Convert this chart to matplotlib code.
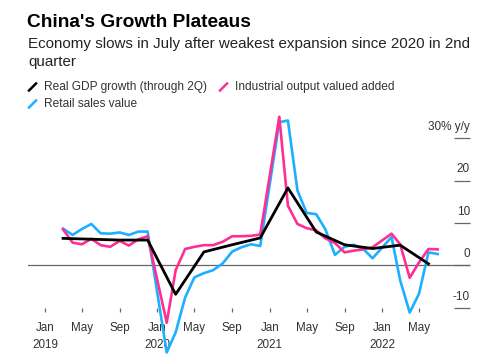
import numpy as np
import pandas as pd
import matplotlib
matplotlib.use('Agg')
import matplotlib.pyplot as plt
from matplotlib.lines import Line2D

plt.rcParams['font.family'] = ['Liberation Sans', 'DejaVu Sans']

'''Data (y/y %), Jan-Feb combined readings sit on Feb'''
retail = [8.7, 7.2, 8.6, 9.8, 7.6, 7.5, 7.8, 7.2, 8.0, 8.0,
          -20.5, -15.8, -7.5, -2.8, -1.8, -1.1, 0.5, 3.3, 4.3, 5.0, 4.6,
          33.8, 34.2, 17.7, 12.4, 12.1, 8.5, 2.5, 4.4, 4.9, 3.9, 1.7,
          6.7, -3.5, -11.1, -6.7, 3.1, 2.7]
industrial = [8.5, 5.4, 5.0, 6.3, 4.8, 4.4, 5.8, 4.7, 6.2, 6.9,
              -13.5, -1.1, 3.9, 4.4, 4.8, 4.8, 5.6, 6.9, 6.9, 7.0, 7.3,
              35.1, 14.1, 9.8, 8.8, 8.3, 6.4, 5.3, 3.1, 3.5, 3.8, 4.3,
              7.5, 5.0, -2.9, 0.7, 3.9, 3.8]
gdp = [6.4, 6.2, 6.0, 6.0,
       -6.8, 3.2, 4.9, 6.5,
       18.3, 7.9, 4.9, 4.0,
       4.8, 0.4]

months = [d for d in pd.date_range('2019-03-01', '2022-07-01', freq='MS') if d.month != 1]
quarters = pd.date_range('2019-03-01', '2022-06-01', freq='3MS')

xtick_dates = pd.date_range('2019-01-01', '2022-05-01', freq='4MS')
xtick_labels = [d.strftime('%b') + ('\n%d' % d.year if d.month == 1 else '') for d in xtick_dates]
yticks = [-10, 0, 10, 20, 30]
ytick_labels = ['-10', '0', '10', '20', '30% y/y']

c_gdp = '#000000'
c_ind = '#ff2e93'
c_ret = '#1cb0ff'
grey = '#666666'
txt = '#333333'

'''Plot'''
W, H = 485, 360
fig = plt.figure(figsize=(W / 100, H / 100), dpi=100)
fx = lambda px: px / W
fy = lambda py: 1 - py / H

ax = fig.add_axes([fx(28), fy(312), fx(470) - fx(28), fy(115) - fy(312)])

ax.plot(months, retail, color=c_ret, lw=1.9, clip_on=False, zorder=3)
ax.plot(months, industrial, color=c_ind, lw=1.9, clip_on=False, zorder=4)
ax.plot(quarters, gdp, color=c_gdp, lw=2.0, clip_on=False, zorder=5)
ax.axhline(0, color=grey, lw=0.9, zorder=2)

ax.set_xlim(pd.Timestamp('2018-11-07'), pd.Timestamp('2022-10-14'))
ax.set_ylim(-10.97, 35.5)
for s in ax.spines.values():
    s.set_visible(False)

ax.set_xticks(xtick_dates)
ax.set_xticklabels(xtick_labels, linespacing=1.6, va='top')
ax.tick_params(axis='x', direction='in', length=3, width=0.9, color=grey,
               labelsize=8.4, labelcolor=txt, pad=7)

ax.yaxis.set_ticks_position('right')
ax.set_yticks(yticks)
ax.set_yticklabels([])
ax.tick_params(axis='y', direction='in', length=11.5, width=0.9, color=grey)
for v, lab in zip(yticks, ytick_labels):
    ax.annotate(lab, xy=(1, v), xycoords=('axes fraction', 'data'),
                xytext=(0, 6), textcoords='offset points',
                ha='right', va='baseline', fontsize=8.5, color=txt)

# header
fig.text(fx(27), fy(14), "China's Growth Plateaus", fontsize=13.8,
         fontweight='bold', ha='left', va='top', color='black')
fig.text(fx(28), fy(37), 'Economy slows in July after weakest expansion since 2020 in 2nd\nquarter',
         fontsize=10.9, ha='left', va='top', color='#222222', linespacing=1.4)

# legend
legend_items = [('Real GDP growth (through 2Q)', c_gdp, 29, 87),
                ('Industrial output valued added', c_ind, 220, 87),
                ('Retail sales value', c_ret, 29, 104)]
for lab, col, x0, yc in legend_items:
    fig.add_artist(Line2D([fx(x0), fx(x0 + 7)], [fy(yc + 3.5), fy(yc - 3.5)],
                          color=col, lw=1.8, transform=fig.transFigure))
    fig.text(fx(x0 + 15), fy(yc), lab, fontsize=8.6, ha='left', va='center', color=txt)

plt.savefig('out.png', dpi=100)
